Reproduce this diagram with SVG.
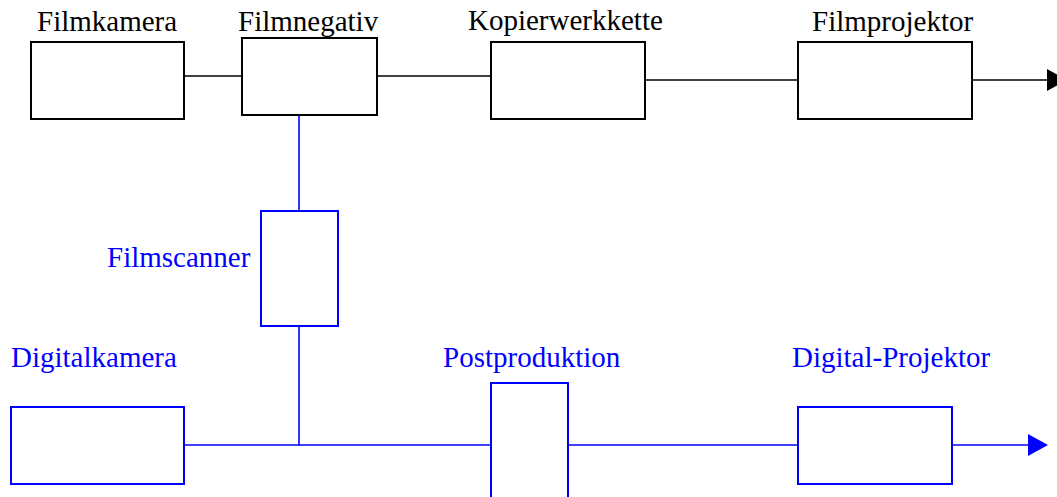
<svg xmlns="http://www.w3.org/2000/svg" width="1057" height="497" viewBox="0 0 1057 497">
  <style>
    .box { fill: #ffffff; stroke-width: 2; }
    .film { stroke: #000000; }
    .digi { stroke: #0000ff; }
    .lbl { font-family: "Liberation Serif", "Times New Roman", serif; font-size: 29px; }
    .lbl-film { fill: #000000; }
    .lbl-digi { fill: #0000ff; }
    .wire { fill: none; stroke-width: 1.6; }
  </style>
  <defs>
    <marker id="arrowBlack" markerUnits="userSpaceOnUse" markerWidth="20" markerHeight="22" refX="0" refY="11" orient="auto">
      <path d="M0,0 L20,11 L0,22 Z" fill="#000000"/>
    </marker>
    <marker id="arrowBlue" markerUnits="userSpaceOnUse" markerWidth="20" markerHeight="22" refX="0" refY="11" orient="auto">
      <path d="M0,0 L20,11 L0,22 Z" fill="#0000ff"/>
    </marker>
  </defs>

  <rect width="1057" height="497" fill="#ffffff"/>

  <!-- connectors -->
  <g id="connectors">
    <g class="wire" stroke="#000000">
      <line x1="184" y1="76" x2="242" y2="76"/>
      <line x1="377" y1="76" x2="491" y2="76"/>
      <line x1="645" y1="80" x2="798" y2="80"/>
      <line x1="972" y1="80" x2="1047" y2="80" marker-end="url(#arrowBlack)"/>
    </g>
    <g class="wire" stroke="#0000ff">
      <line x1="299" y1="115" x2="299" y2="211"/>
      <line x1="299" y1="326" x2="299" y2="445"/>
      <line x1="184" y1="445" x2="491" y2="445"/>
      <line x1="568" y1="445" x2="798" y2="445"/>
      <line x1="952" y1="445" x2="1028" y2="445" marker-end="url(#arrowBlue)"/>
    </g>
  </g>

  <!-- film chain -->
  <g id="filmkamera">
    <rect class="box film" x="31" y="42" width="153" height="77"/>
    <text class="lbl lbl-film" x="37" y="31">Filmkamera</text>
  </g>
  <g id="filmnegativ">
    <rect class="box film" x="242" y="38" width="135" height="77"/>
    <text class="lbl lbl-film" x="238" y="31">Filmnegativ</text>
  </g>
  <g id="kopierwerkkette">
    <rect class="box film" x="491" y="42" width="154" height="77"/>
    <text class="lbl lbl-film" x="468" y="30">Kopierwerkkette</text>
  </g>
  <g id="filmprojektor">
    <rect class="box film" x="798" y="42" width="174" height="77"/>
    <text class="lbl lbl-film" x="812" y="31">Filmprojektor</text>
  </g>

  <!-- digital chain -->
  <g id="filmscanner">
    <rect class="box digi" x="261" y="211" width="77" height="115"/>
    <text class="lbl lbl-digi" x="107" y="267">Filmscanner</text>
  </g>
  <g id="digitalkamera">
    <rect class="box digi" x="11" y="407" width="173" height="77"/>
    <text class="lbl lbl-digi" x="11" y="367">Digitalkamera</text>
  </g>
  <g id="postproduktion">
    <rect class="box digi" x="491" y="383" width="77" height="130"/>
    <text class="lbl lbl-digi" x="443" y="367">Postproduktion</text>
  </g>
  <g id="digital-projektor">
    <rect class="box digi" x="798" y="407" width="154" height="77"/>
    <text class="lbl lbl-digi" x="792" y="367">Digital-Projektor</text>
  </g>
</svg>
